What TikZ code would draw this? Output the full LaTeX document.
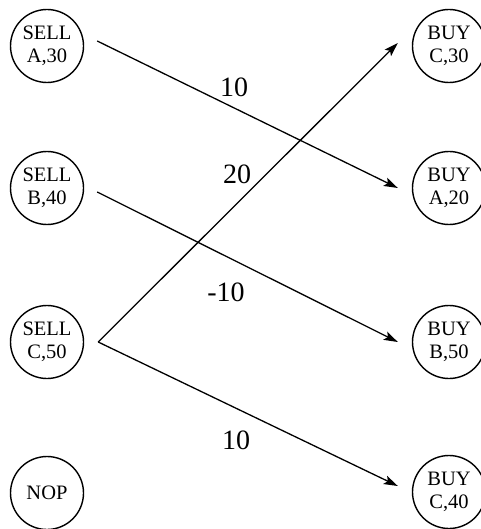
\documentclass[tikz,border=0pt]{standalone}
\usepackage{fontspec}
\setmainfont{Liberation Serif}
\usetikzlibrary{arrows.meta}
\tikzset{
  st/.style={circle, draw, line width=1.4pt, minimum size=73pt, inner sep=0pt, align=center,
             font=\fontsize{20.5}{23.5}\selectfont},
  arr/.style={line width=1.3pt, -{Stealth[length=14pt,width=9pt,inset=3pt]}},
  lbl/.style={font=\fontsize{28}{32}\selectfont, inner sep=0pt}
}
\begin{document}
\begin{tikzpicture}[x=1pt,y=-1pt]
\useasboundingbox (0,0) rectangle (480,529);
\node[st] (sa) at (47,46) {SELL\\A,30};
\node[st] (sb) at (47,188) {SELL\\B,40};
\node[st] (sc) at (47,342) {SELL\\C,50};
\node[st] (nop) at (47,493) {NOP};
\node[st] (bc) at (449,46) {BUY\\C,30};
\node[st] (ba) at (449,188) {BUY\\A,20};
\node[st] (bb) at (449,342) {BUY\\B,50};
\node[st] (bc4) at (449,492) {BUY\\C,40};
\coordinate (scs) at ([xshift=14pt]sc.east);
\draw[arr] ([xshift=13pt,yshift=5pt]sa.east) -- ([xshift=-14pt]ba.west);
\draw[arr] ([xshift=13pt,yshift=-4pt]sb.east) -- ([xshift=-14pt]bb.west);
\draw[arr] (scs) -- ([xshift=-14pt,yshift=3pt]bc.west);
\draw[arr] (scs) -- ([xshift=-14pt,yshift=6pt]bc4.west);
\node[lbl] (l1) at (234,87) {10};
\node[lbl] (l2) at (237,174) {20};
\node[lbl] (l3) at (226,292) {-10};
\node[lbl] (l4) at (236,440) {10};
\end{tikzpicture}
\end{document}
